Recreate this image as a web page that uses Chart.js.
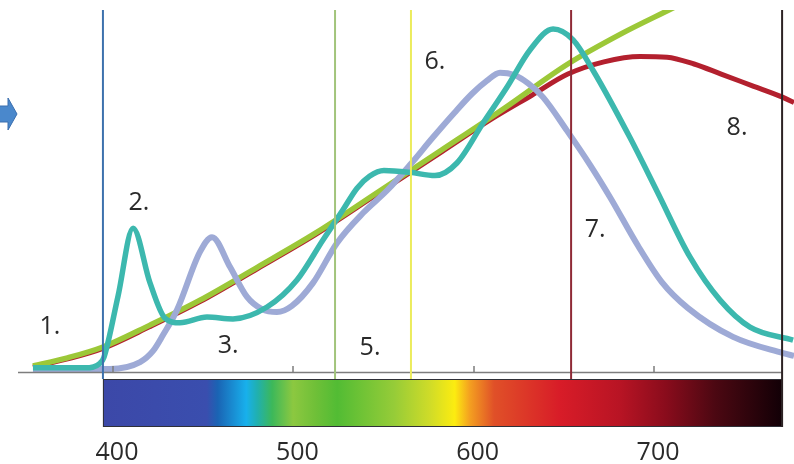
<!DOCTYPE html>
<html>
<head>
<meta charset="utf-8">
<script src="https://cdn.jsdelivr.net/npm/chart.js@4.4.1/dist/chart.umd.min.js"></script>
<style>
  body { margin: 0; background: #fff; }
  #wrap { width: 794px; height: 464px; }
</style>
</head>
<body>
<div id="wrap"><canvas id="myChart" width="794" height="464"></canvas></div>
<script>
// wavelength (nm) / relative response for each curve
var greenWl  = [353.4, 372, 392.2, 418, 446, 478, 510, 545, 580, 615, 650, 680, 710, 735]
var greenVal = [1.1, 3.3, 6.4, 12.4, 19.4, 28.6, 38.0, 49.5, 61.1, 72.8, 85.0, 93.5, 101.0, 107.5]

var redWl  = [353.4, 372, 392.2, 418, 446, 478, 510, 545, 580, 608, 630, 650, 670, 690, 705, 720, 735, 752, 769, 775.4]
var redVal = [0.8, 3.0, 6.0, 12.0, 19.0, 28.2, 37.6, 49.1, 60.6, 69.8, 76.3, 82.2, 85.6, 87.1, 86.9, 85.0, 82.2, 79.0, 75.8, 74.3]

var tealWl  = [353.4, 382.3, 390.6, 392.8, 400.6, 408.9, 418.3, 426.6, 434.9, 449.9, 464.3, 483.2, 499.8, 514.2, 525.3, 533.1, 540, 548, 562.5, 576.3, 588.5, 603.0, 616.3, 629.0, 641.8, 652.9, 664.0, 684.5, 699.5, 717.7, 734.4, 751.0, 774.9]
var tealVal = [0.6, 0.6, 1.9, 3.6, 20.6, 39.4, 24.2, 14.4, 13.1, 14.7, 14.2, 17.5, 25.0, 36.1, 44.5, 50.5, 53.8, 55.4, 54.9, 54.0, 57.5, 68.6, 78.6, 88.9, 94.7, 91.7, 83.2, 64.5, 49.6, 31.4, 19.4, 11.9, 8.3]

var lilacWl  = [353.4, 396.1, 412.8, 420.0, 425.5, 433.3, 446.0, 452.7, 462.7, 472.1, 480.4, 488.7, 497.0, 508.7, 522.0, 536.4, 550, 562.5, 575, 587, 597, 605, 612.4, 620, 628, 636.2, 649.5, 662.3, 673.4, 688.9, 702, 716.6, 741.6, 769.3, 775.4]
var lilacVal = [0.3, 0.3, 2.2, 5.3, 9.7, 16.7, 32.8, 36.9, 28.6, 20.3, 16.9, 16.1, 17.8, 24.2, 35.3, 43.6, 50.0, 57.0, 64.5, 71.4, 76.8, 80.3, 82.6, 82.0, 79.6, 75.8, 66.5, 57.0, 48.0, 34.5, 24.5, 17.2, 9.2, 4.7, 3.9]

// marker lines across the plot
var markerWl = [392.2, 520.9, 563.0, 651.8, 768.8]
var markerColors = ['#3d72ad', '#a2c47c', '#ecec5c', '#8f2a36', '#2c2224']

// numbered curve labels
var noteText = ['1.', '2.', '3.', '5.', '6.', '7.', '8.']
var noteWl   = [362.8, 412.2, 461.6, 540.3, 576.3, 665.1, 743.8]
var noteVal  = [11.9, 46.4, 6.7, 6.1, 85.6, 38.9, 67.2]

var tickValues = [400, 500, 600, 700]
var spectrumStart = 392.2
var spectrumEnd = 768.8

function pts(xs, ys) {
  return xs.map((x, i) => ({x: x, y: ys[i]}))
}

const spectrumPlugin = {
  id: 'spectrum',
  afterDatasetsDraw(chart) {
    const ctx = chart.ctx
    const xs = chart.scales.x
    const area = chart.chartArea
    const x0 = xs.getPixelForValue(spectrumStart)
    const x1 = xs.getPixelForValue(spectrumEnd)
    const barTop = area.bottom + 7
    const barBottom = area.bottom + 55

    ctx.save()
    // axis line and small ticks
    ctx.strokeStyle = '#7d7d7d'
    ctx.lineWidth = 1.5
    ctx.beginPath()
    ctx.moveTo(area.left, area.bottom + 0.5)
    ctx.lineTo(x1, area.bottom + 0.5)
    tickValues.forEach(v => {
      const tx = Math.round(xs.getPixelForValue(v)) - 4
      ctx.moveTo(tx, area.bottom)
      ctx.lineTo(tx, area.bottom - 6)
    })
    ctx.stroke()

    // colour strip
    const g = ctx.createLinearGradient(x0, 0, x1, 0)
    const stops = [
      [0, '#3c48a8'], [0.153, '#3a4eae'], [0.169, '#1a64b4'], [0.211, '#18b0ec'],
      [0.227, '#20b0b0'], [0.249, '#3cb85a'], [0.28, '#8cc840'], [0.312, '#70c038'],
      [0.345, '#52bc34'], [0.429, '#96cc38'], [0.482, '#d0dc28'], [0.518, '#fcec10'],
      [0.54, '#f4a020'], [0.576, '#e05028'], [0.673, '#d81c28'], [0.761, '#b81424'],
      [0.828, '#8a0c1c'], [0.901, '#4c0812'], [1, '#120006']
    ]
    stops.forEach(s => g.addColorStop(s[0], s[1]))
    ctx.fillStyle = g
    ctx.fillRect(x0, barTop, x1 - x0, barBottom - barTop)
    ctx.strokeStyle = '#2f3038'
    ctx.lineWidth = 1
    ctx.strokeRect(x0 + 0.5, barTop + 0.5, x1 - x0 - 1, barBottom - barTop - 1)

    // vertical marker lines
    ctx.lineWidth = 2
    markerWl.forEach((w, i) => {
      const px = xs.getPixelForValue(w)
      ctx.strokeStyle = markerColors[i]
      ctx.beginPath()
      ctx.moveTo(px, area.top)
      ctx.lineTo(px, i === markerWl.length - 1 ? barBottom : barTop)
      ctx.stroke()
    })

    // curve numbers
    const ys = chart.scales.y
    ctx.fillStyle = '#2a2a2a'
    ctx.font = '25px "Open Sans"'
    ctx.textAlign = 'center'
    ctx.textBaseline = 'middle'
    noteText.forEach((t, i) => {
      ctx.fillText(t, xs.getPixelForValue(noteWl[i]), ys.getPixelForValue(noteVal[i]))
    })

    // arrow at the left edge
    ctx.fillStyle = '#4a88cc'
    ctx.strokeStyle = '#3a6eae'
    ctx.lineWidth = 1
    ctx.beginPath()
    ctx.moveTo(-2, 106)
    ctx.lineTo(8, 106)
    ctx.lineTo(8, 98)
    ctx.lineTo(17, 114)
    ctx.lineTo(8, 130)
    ctx.lineTo(8, 122)
    ctx.lineTo(-2, 122)
    ctx.closePath()
    ctx.fill()
    ctx.stroke()
    ctx.restore()
  }
}

const ctx = document.getElementById('myChart')
const chart1 = new Chart(ctx, {
  type: 'line',
  data: {
    datasets: [{
      data: pts(tealWl, tealVal),
      borderColor: '#3cb8ae',
      borderWidth: 5.5
    }, {
      data: pts(lilacWl, lilacVal),
      borderColor: '#9eaad6',
      borderWidth: 6
    }, {
      data: pts(greenWl, greenVal),
      borderColor: '#9cc838',
      borderWidth: 5.5
    }, {
      data: pts(redWl, redVal),
      borderColor: '#b3202e',
      borderWidth: 5
    }]
  },
  options: {
    responsive: false,
    animation: false,
    devicePixelRatio: 1,
    elements: { point: { radius: 0 }, line: { cubicInterpolationMode: 'monotone', fill: false } },
    layout: { padding: { left: 18, right: 0, top: 10, bottom: 0 } },
    plugins: { legend: { display: false }, tooltip: { enabled: false } },
    scales: {
      x: {
        type: 'linear',
        min: 345.1,
        max: 775.4,
        grid: { display: false, drawTicks: false },
        border: { display: false },
        afterBuildTicks: scale => { scale.ticks = tickValues.map(v => ({value: v})) },
        afterFit: scale => { scale.height = 92 },
        ticks: {
          padding: 66,
          color: '#2a2a2a',
          font: { family: 'Open Sans', size: 25 },
          maxRotation: 0,
          callback: v => String(v)
        }
      },
      y: {
        display: false,
        min: -0.556,
        max: 100
      }
    }
  },
  plugins: [spectrumPlugin]
});
</script>
</body>
</html>
